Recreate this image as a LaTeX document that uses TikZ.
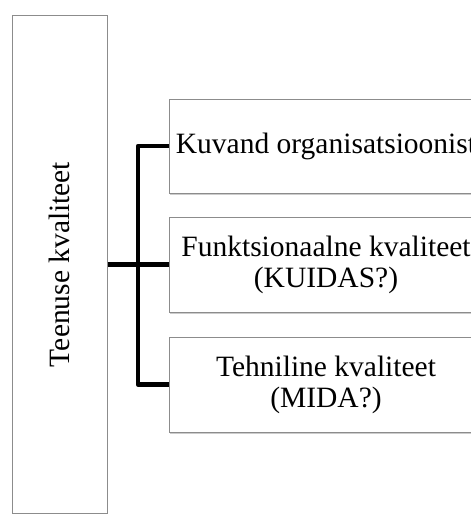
\documentclass[tikz,border=0pt]{standalone}
\usepackage{graphicx}
\usepackage{fontspec}
\setmainfont{Liberation Serif}
\usetikzlibrary{shadows}

\begin{document}
\begin{tikzpicture}[x=1pt,y=1pt]
      \tikzset{box/.style={draw=black!45,
          line width=1pt,
          fill=white,
          inner sep=0pt,
          align=center,
          font=\fontsize{29.5}{31}\selectfont,
          drop shadow={shadow xshift=1pt, shadow yshift=-2pt, opacity=0.4}},
        bracket/.style={line width=4.5pt, line join=round}
      }
      \useasboundingbox (0,0) rectangle (471,-514);
      \clip (0,0) rectangle (471,-514);
      \node [box, minimum width=95, minimum height=498] (teenus) at (59.5,-264.5) {\rotatebox{90}{Teenuse kvaliteet}};
      \node [box, minimum width=314, minimum height=94] (kuvand) at (326,-146) {Kuvand organisatsioonist};
      \node [box, minimum width=314, minimum height=95] (funkts) at (326,-264.5) {Funktsionaalne kvaliteet\\(KUIDAS?)};
      \node [box, minimum width=314, minimum height=95] (tehn) at (326,-384.5) {Tehniline kvaliteet\\(MIDA?)};
      \coordinate (split) at (138,-264.5);
      \draw [bracket] (kuvand.west) -| (split) |- (tehn.west);
      \draw [bracket] (teenus.east) -- (funkts.west);
    \end{tikzpicture}
\end{document}
